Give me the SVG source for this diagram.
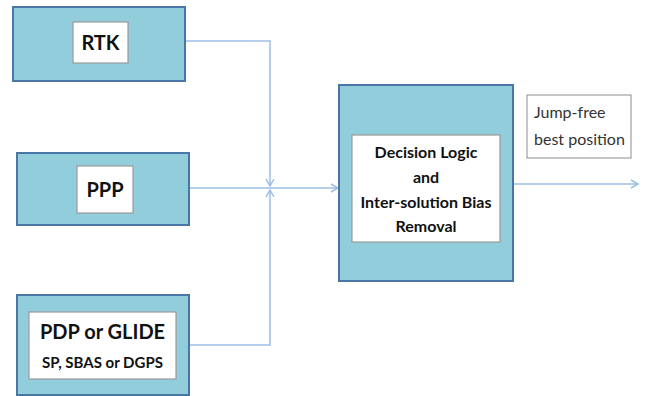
<svg xmlns="http://www.w3.org/2000/svg" width="647" height="396" viewBox="0 0 647 396">
<style>
.outer{fill:#92CDDC;stroke:#4A76A6;stroke-width:2}
.inner{fill:#FFFFFF;stroke:#9A9A9A;stroke-width:1.2}
.lbl{fill:#FFFFFF;stroke:#8C8C8C;stroke-width:1}
.t{font-family:Lato,"Open Sans","Liberation Sans",sans-serif;font-weight:bold;fill:#111;text-anchor:middle}
.r{font-family:Lato,"Open Sans","Liberation Sans",sans-serif;fill:#333;font-size:16px}
.c{fill:none;stroke:#9DBFE3;stroke-width:1.5}
</style>
<defs>
<marker id="ah" markerWidth="10" markerHeight="10" refX="8" refY="5" orient="auto" markerUnits="userSpaceOnUse">
<path d="M1,1 L8,5 L1,9" fill="none" stroke="#9DBFE3" stroke-width="1.5"/>
</marker>
</defs>
<g id="connectors">
<path class="c" d="M185,41 H270 V186" marker-end="url(#ah)"/>
<path class="c" d="M189,345 H270 V190" marker-end="url(#ah)"/>
<path class="c" d="M189,188 H338" marker-end="url(#ah)"/>
<path class="c" d="M513,184 H638" marker-end="url(#ah)"/>
</g>
<g id="rtk">
<rect class="outer" x="13" y="7" width="172" height="74"/>
<rect class="inner" x="73" y="22" width="55" height="41"/>
<text class="t" x="100.5" y="50" font-size="20">RTK</text>
</g>
<g id="ppp">
<rect class="outer" x="17" y="153" width="172" height="72"/>
<rect class="inner" x="77" y="166" width="56" height="47"/>
<text class="t" x="105" y="197" font-size="20">PPP</text>
</g>
<g id="pdp">
<rect class="outer" x="17" y="295" width="172" height="100"/>
<rect class="inner" x="29" y="312" width="147" height="67"/>
<text class="t" x="102.5" y="339" font-size="20">PDP or GLIDE</text>
<text class="t" x="102.5" y="368" font-size="15">SP, SBAS or DGPS</text>
</g>
<g id="decision">
<rect class="outer" x="339" y="85" width="174" height="196"/>
<rect class="inner" x="352" y="135" width="148" height="107"/>
<text class="t" x="426" y="158" font-size="16">Decision Logic</text>
<text class="t" x="426" y="183" font-size="16">and</text>
<text class="t" x="426" y="208" font-size="16">Inter-solution Bias</text>
<text class="t" x="426" y="232" font-size="16">Removal</text>
</g>
<g id="output-label">
<rect class="lbl" x="527" y="95" width="104" height="63"/>
<text class="r" x="534" y="118">Jump-free</text>
<text class="r" x="534" y="145">best position</text>
</g>
</svg>
